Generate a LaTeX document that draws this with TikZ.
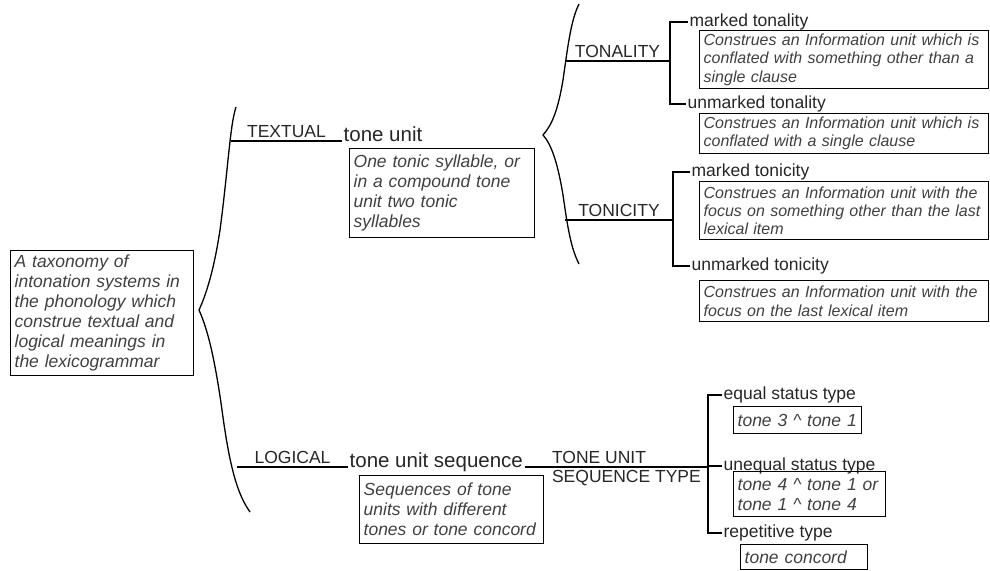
\documentclass[tikz,border=0pt]{standalone}
\usepackage{fontspec}
\setmainfont{Liberation Sans}
\newcommand{\bigtxt}{\fontsize{17.5}{20}\selectfont}
\newcommand{\smalltxt}{\fontsize{16}{18.3}\selectfont}
\newcommand{\headtxt}{\fontsize{20.5}{24}\selectfont}

\begin{document}
\begin{tikzpicture}[x=1pt,y=-1pt,line width=1.3pt,
  desc/.style={draw,anchor=north west,align=left,inner xsep=4pt,inner ysep=0pt,font=\bigtxt\itshape,text=black!75},
  note/.style={desc,font=\smalltxt\itshape},
  opt/.style={anchor=west,inner xsep=1pt,font=\bigtxt,text=black!85},
  head/.style={anchor=base west,inner sep=1pt,font=\headtxt,text=black!85},
  sys/.style={font=\bigtxt,text=black!85,inner sep=3pt}]
\useasboundingbox (0,0) rectangle (990,570);

\node[desc,text width=175pt,minimum height=125pt] (root) at (10,250) {A taxonomy of\\intonation systems in\\the phonology which\\construe textual and\\logical meanings in\\the lexicogrammar};

\draw (236,107) .. controls (230,125) and (228,170) .. (220,230) .. controls (214,270) and (206,295) .. (199,310) .. controls (208,330) and (215,360) .. (222,410) .. controls (230,470) and (238,495) .. (250,512);
\coordinate (b1t) at (231,141);
\coordinate (b1l) at (237,467);

\node[head] (tu) at (342,141) {tone unit};
\node[desc,text width=177pt,minimum height=89pt] (tud) at (349,148) {One tonic syllable, or\\in a compound tone\\unit two tonic\\syllables};
\node[head] (tus) at (348,467) {tone unit sequence};
\node[desc,text width=176pt,minimum height=68pt] (tusd) at (359,475) {Sequences of tone\\units with different\\tones or tone concord};

\draw (b1t) -- (tu.base west) node[sys,midway,above] {TEXTUAL};
\draw (b1l) -- (tus.base west) node[sys,midway,above] {LOGICAL};

\draw (579,4) .. controls (571,20) and (568,45) .. (563,80) .. controls (558,110) and (552,125) .. (543,135) .. controls (552,145) and (558,165) .. (563,195) .. controls (568,230) and (571,248) .. (579,264);
\coordinate (b2t) at (565,61);
\coordinate (b2b) at (565,220);
\coordinate (tonality) at (670,61);
\coordinate (tonicity) at (673,220);
\coordinate (seqtype) at (708,467);

\node[opt] (mtl) at (688,22) {marked tonality};
\node[note,text width=281pt,minimum height=58pt] (d1) at (699,30) {Construes an Information unit which is\\conflated with something other than a\\single clause};
\node[opt] (utl) at (686,104) {unmarked tonality};
\node[note,text width=281pt,minimum height=40pt] (d2) at (699,113) {Construes an Information unit which is\\conflated with a single clause};
\node[opt] (mtc) at (690,172) {marked tonicity};
\node[note,text width=281pt,minimum height=58pt] (d3) at (699,181) {Construes an Information unit with the\\focus on something other than the last\\lexical item};
\node[opt] (utc) at (690,266) {unmarked tonicity};
\node[note,text width=281pt,minimum height=41pt] (d4) at (699,280) {Construes an Information unit with the\\focus on the last lexical item};

\node[opt] (eq) at (722,395) {equal status type};
\node[desc,text width=120pt,minimum height=27pt] (e1) at (733,406) {tone 3 \textasciicircum\ tone 1};
\node[opt] (uneq) at (722,466) {unequal status type};
\node[desc,text width=144pt,minimum height=45pt] (e2) at (733,471) {tone 4 \textasciicircum\ tone 1 or\\tone 1 \textasciicircum\ tone 4};
\node[opt] (rep) at (722,533) {repetitive type};
\node[desc,text width=119pt,minimum height=25pt] (e3) at (740,544) {tone concord};

\draw (b2t) -- (tonality) node[sys,midway,above] {TONALITY};
\draw (b2b) -- (tonicity) node[sys,midway,above] {TONICITY};
\draw (tus.base east) -- (seqtype) node[sys,pos=0.13,anchor=south west] {TONE UNIT} node[sys,pos=0.13,anchor=north west] {SEQUENCE TYPE};

\draw (mtl.west) -| (tonality) |- (utl.west);
\draw (mtc.west) -| (tonicity) |- (utc.west);
\draw (eq.west) -| (seqtype) |- (rep.west);
\draw (seqtype) |- (uneq.west);
\end{tikzpicture}
\end{document}
